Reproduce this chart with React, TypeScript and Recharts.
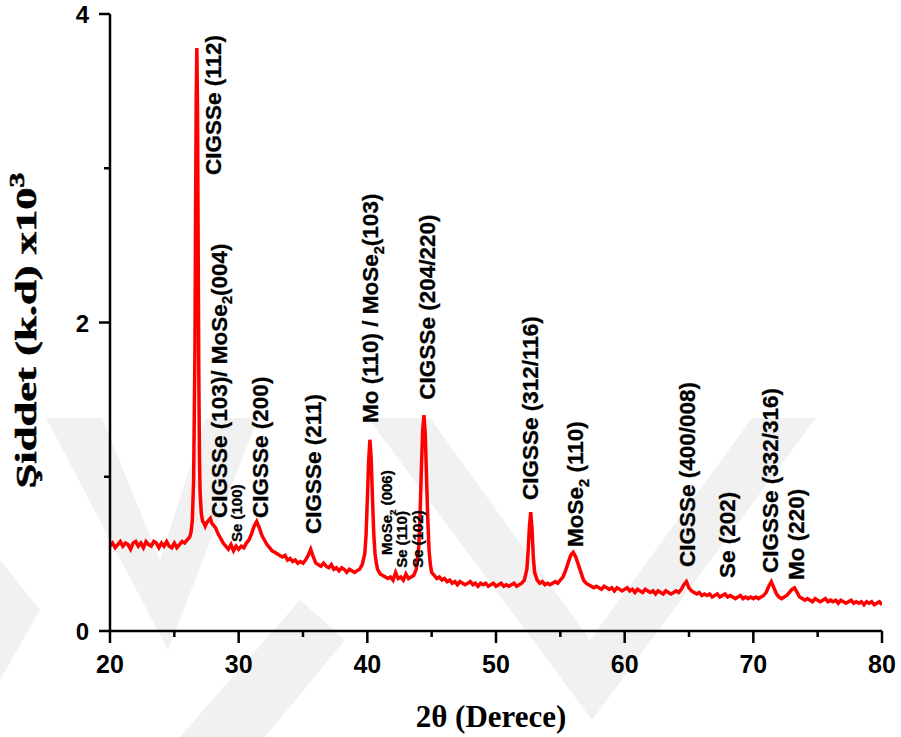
import React from "react";
import { ComposedChart, Line, Scatter, XAxis, YAxis, Label } from "recharts";

// 2θ (deg) / intensity (x10^3)
const scan: [number, number][] = [
  [20.0, 0.55], [20.2, 0.57], [20.4, 0.54], [20.6, 0.56], [20.8, 0.58], [21.0, 0.55], [21.2, 0.57], [21.4, 0.56],
  [21.6, 0.53], [21.8, 0.57], [22.0, 0.58], [22.2, 0.55], [22.4, 0.57], [22.6, 0.54], [22.8, 0.58], [23.0, 0.56],
  [23.2, 0.55], [23.4, 0.58], [23.6, 0.57], [23.8, 0.54], [24.0, 0.57], [24.2, 0.55], [24.4, 0.58], [24.6, 0.55],
  [24.8, 0.54], [25.0, 0.57], [25.2, 0.54], [25.4, 0.56], [25.6, 0.58], [25.8, 0.57], [26.0, 0.59], [26.2, 0.61],
  [26.3, 0.64], [26.4, 0.72], [26.5, 0.98], [26.6, 1.8], [26.65, 2.7], [26.7, 3.45], [26.75, 3.78], [26.8, 3.4],
  [26.85, 2.55], [26.9, 1.7], [26.95, 1.15], [27.0, 0.9], [27.1, 0.76], [27.2, 0.71], [27.3, 0.7], [27.4, 0.68],
  [27.5, 0.7], [27.6, 0.71], [27.7, 0.72], [27.8, 0.73], [27.9, 0.7], [28.0, 0.69], [28.2, 0.67], [28.4, 0.63],
  [28.6, 0.6], [28.8, 0.57], [29.0, 0.55], [29.2, 0.53], [29.4, 0.56], [29.6, 0.52], [29.8, 0.55], [30.0, 0.53],
  [30.2, 0.55], [30.4, 0.54], [30.6, 0.57], [30.8, 0.59], [31.0, 0.63], [31.2, 0.68], [31.4, 0.71], [31.6, 0.67],
  [31.8, 0.62], [32.0, 0.59], [32.2, 0.56], [32.4, 0.54], [32.6, 0.52], [32.8, 0.51], [33.0, 0.5], [33.2, 0.49],
  [33.4, 0.48], [33.6, 0.49], [33.8, 0.46], [34.0, 0.47], [34.2, 0.45], [34.4, 0.46], [34.6, 0.44], [34.8, 0.45],
  [35.0, 0.44], [35.2, 0.46], [35.4, 0.49], [35.6, 0.53], [35.8, 0.48], [36.0, 0.44], [36.2, 0.43], [36.4, 0.42],
  [36.6, 0.44], [36.8, 0.42], [37.0, 0.41], [37.2, 0.43], [37.4, 0.4], [37.6, 0.41], [37.8, 0.39], [38.0, 0.41],
  [38.2, 0.4], [38.4, 0.38], [38.6, 0.4], [38.8, 0.39], [39.0, 0.38], [39.2, 0.39], [39.4, 0.4], [39.6, 0.43],
  [39.8, 0.5], [39.9, 0.62], [40.0, 0.85], [40.1, 1.1], [40.2, 1.24], [40.3, 1.12], [40.4, 0.86], [40.5, 0.63],
  [40.6, 0.5], [40.7, 0.44], [40.8, 0.4], [41.0, 0.37], [41.2, 0.36], [41.4, 0.35], [41.6, 0.34], [41.8, 0.35],
  [42.0, 0.33], [42.2, 0.38], [42.4, 0.34], [42.6, 0.35], [42.8, 0.33], [43.0, 0.37], [43.2, 0.34], [43.4, 0.35],
  [43.6, 0.36], [43.8, 0.4], [44.0, 0.55], [44.1, 0.76], [44.2, 1.05], [44.3, 1.3], [44.4, 1.4], [44.5, 1.28],
  [44.6, 1.0], [44.7, 0.72], [44.8, 0.52], [44.9, 0.43], [45.0, 0.38], [45.2, 0.36], [45.4, 0.34], [45.6, 0.35],
  [45.8, 0.33], [46.0, 0.34], [46.2, 0.32], [46.4, 0.33], [46.6, 0.31], [46.8, 0.32], [47.0, 0.3], [47.2, 0.32],
  [47.4, 0.31], [47.6, 0.3], [47.8, 0.31], [48.0, 0.32], [48.2, 0.3], [48.4, 0.31], [48.6, 0.29], [48.8, 0.31],
  [49.0, 0.3], [49.2, 0.31], [49.4, 0.29], [49.6, 0.3], [49.8, 0.31], [50.0, 0.29], [50.2, 0.3], [50.4, 0.31],
  [50.6, 0.29], [50.8, 0.3], [51.0, 0.29], [51.2, 0.3], [51.4, 0.31], [51.6, 0.29], [51.8, 0.3], [52.0, 0.31],
  [52.2, 0.33], [52.4, 0.4], [52.5, 0.52], [52.6, 0.68], [52.7, 0.77], [52.8, 0.66], [52.9, 0.48], [53.0, 0.38],
  [53.2, 0.33], [53.4, 0.31], [53.6, 0.32], [53.8, 0.3], [54.0, 0.31], [54.2, 0.3], [54.4, 0.31], [54.6, 0.32],
  [54.8, 0.31], [55.0, 0.33], [55.2, 0.35], [55.4, 0.39], [55.6, 0.44], [55.8, 0.49], [56.0, 0.51], [56.2, 0.48],
  [56.4, 0.43], [56.6, 0.38], [56.8, 0.33], [57.0, 0.31], [57.2, 0.3], [57.4, 0.29], [57.6, 0.28], [57.8, 0.29],
  [58.0, 0.28], [58.2, 0.27], [58.4, 0.29], [58.6, 0.28], [58.8, 0.27], [59.0, 0.28], [59.2, 0.26], [59.4, 0.28],
  [59.6, 0.27], [59.8, 0.26], [60.0, 0.27], [60.2, 0.28], [60.4, 0.26], [60.6, 0.27], [60.8, 0.25], [61.0, 0.27],
  [61.2, 0.26], [61.4, 0.25], [61.6, 0.27], [61.8, 0.26], [62.0, 0.25], [62.2, 0.26], [62.4, 0.24], [62.6, 0.26],
  [62.8, 0.25], [63.0, 0.24], [63.2, 0.26], [63.4, 0.25], [63.6, 0.24], [63.8, 0.25], [64.0, 0.26], [64.2, 0.25],
  [64.4, 0.27], [64.6, 0.3], [64.8, 0.32], [65.0, 0.28], [65.2, 0.26], [65.4, 0.25], [65.6, 0.24], [65.8, 0.25],
  [66.0, 0.23], [66.2, 0.24], [66.4, 0.23], [66.6, 0.24], [66.8, 0.22], [67.0, 0.23], [67.2, 0.24], [67.4, 0.22],
  [67.6, 0.23], [67.8, 0.24], [68.0, 0.22], [68.2, 0.23], [68.4, 0.22], [68.6, 0.21], [68.8, 0.22], [69.0, 0.23],
  [69.2, 0.21], [69.4, 0.22], [69.6, 0.21], [69.8, 0.22], [70.0, 0.21], [70.2, 0.22], [70.4, 0.21], [70.6, 0.22],
  [70.8, 0.23], [71.0, 0.25], [71.2, 0.29], [71.4, 0.32], [71.6, 0.28], [71.8, 0.24], [72.0, 0.22], [72.2, 0.21],
  [72.4, 0.22], [72.6, 0.23], [72.8, 0.25], [73.0, 0.27], [73.2, 0.28], [73.4, 0.25], [73.6, 0.22], [73.8, 0.21],
  [74.0, 0.2], [74.2, 0.21], [74.4, 0.2], [74.6, 0.19], [74.8, 0.21], [75.0, 0.2], [75.2, 0.19], [75.4, 0.2],
  [75.6, 0.21], [75.8, 0.19], [76.0, 0.2], [76.2, 0.19], [76.4, 0.2], [76.6, 0.18], [76.8, 0.2], [77.0, 0.19],
  [77.2, 0.18], [77.4, 0.19], [77.6, 0.2], [77.8, 0.18], [78.0, 0.19], [78.2, 0.18], [78.4, 0.19], [78.6, 0.17],
  [78.8, 0.19], [79.0, 0.18], [79.2, 0.19], [79.4, 0.17], [79.6, 0.18], [79.8, 0.19], [80.0, 0.17],
];

// peak annotations: where the rotated text sits (angle, bottom of text in intensity units)
const labelAngle = [28.0, 28.43, 29.87, 31.66, 35.78, 40.21, 41.49, 42.69, 43.94, 44.64, 52.64, 56.14, 64.84, 67.95, 71.29, 73.31];
const labelBase = [2.956, 0.733, 0.577, 0.733, 0.629, 1.348, 0.493, 0.41, 0.41, 1.5, 0.849, 0.545, 0.415, 0.344, 0.376, 0.33];
const labelText = [
  "CIGSSe (112)",
  "CIGSSe (103)/ MoSe_2(004)",
  "Se (100)",
  "CIGSSe (200)",
  "CIGSSe (211)",
  "Mo (110) / MoSe_2(103)",
  "MoSe_2 (006)",
  "Se (110)",
  "Se (102)",
  "CIGSSe (204/220)",
  "CIGSSe (312/116)",
  "MoSe_2 (110)",
  "CIGSSe (400/008)",
  "Se (202)",
  "CIGSSe (332/316)",
  "Mo (220)",
];
const smallLabels = ["Se (100)", "MoSe_2 (006)", "Se (110)", "Se (102)"];

const xTicks = [20, 25, 30, 35, 40, 45, 50, 55, 60, 65, 70, 75, 80];
const yTicks = [0, 1, 2, 3, 4];

const scanRows = scan.map(([x, y]) => ({ x, y }));
const labelRows = labelAngle.map((x, i) => ({ x, y: labelBase[i], text: labelText[i], small: smallLabels.includes(labelText[i]) }));

const SANS = "'Liberation Sans', Arial, Helvetica, sans-serif";
const SERIF = "'Liberation Serif', 'Times New Roman', serif";

function withSub(text: string, fs: number) {
  const parts = text.split("_2");
  if (parts.length === 1) return text;
  return [
    <tspan key="a">{parts[0]}</tspan>,
    <tspan key="b" fontSize={fs * 0.65} dy={fs * 0.25}>2</tspan>,
    <tspan key="c" dy={-fs * 0.25}>{parts[1]}</tspan>,
  ];
}

const PeakLabel = (props: any) => {
  const { cx, cy, payload } = props;
  if (cx == null || cy == null) return null;
  const fs = payload.small ? 15 : 22.5;
  const bx = cx + fs * 0.36;
  return (
    <text transform={`translate(${bx},${cy}) rotate(-90)`} fontSize={fs} fontWeight="bold" fontFamily={SANS} fill="#000" stroke="#000" strokeWidth={0.3}>
      {withSub(payload.text, fs)}
    </text>
  );
};

const XTick = (props: any) => {
  const { x, y, payload } = props;
  const major = payload.value % 10 === 0;
  return (
    <g>
      <line x1={x} x2={x} y1={y} y2={y + (major ? 12 : 6)} stroke="#000" strokeWidth={2.5} />
      {major && (
        <text x={x} y={y + 42} textAnchor="middle" fontSize={25} fontWeight="bold" fontFamily={SANS} fill="#000">
          {payload.value}
        </text>
      )}
    </g>
  );
};

const YTick = (props: any) => {
  const { x, y, payload } = props;
  const major = payload.value % 2 === 0;
  return (
    <g>
      <line x1={x - (major ? 11 : 6)} x2={x} y1={y} y2={y} stroke="#000" strokeWidth={2.5} />
      {major && (
        <text x={x - 21} y={y + 9} textAnchor="end" fontSize={24} fontWeight="bold" fontFamily={SANS} fill="#000">
          {payload.value}
        </text>
      )}
    </g>
  );
};

// faint background watermark (two chevrons)
const Watermark = () => (
  <svg width={901} height={737} style={{ position: "absolute", left: 0, top: 0 }}>
    <g fill="#f1f1f1">
      <polygon points="46,418 102,418 160,560 206,418 258,418 168,650" />
      <polygon points="368,418 430,418 590,640 752,418 816,418 592,720" />
      <polygon points="0,560 40,610 0,680" />
      <polygon points="180,737 300,600 345,640 265,737" />
    </g>
  </svg>
);

export default function App() {
  return (
    <div style={{ position: "absolute", left: 0, top: 0, width: 901, height: 737, background: "#fff" }}>
      <Watermark />
      <div style={{ position: "absolute", left: 0, top: 0 }}>
        <ComposedChart width={901} height={737} margin={{ top: 14, right: 19, bottom: 0, left: 0 }}>
          <XAxis
            dataKey="x"
            type="number"
            domain={[20, 80]}
            ticks={xTicks}
            interval={0}
            allowDataOverflow
            height={106}
            tickSize={0}
            tickMargin={0}
            tickLine={false}
            tick={<XTick />}
            axisLine={{ stroke: "#000", strokeWidth: 2.5 }}
          >
            <Label
              content={({ viewBox }: any) => (
                <text
                  x={viewBox.x + viewBox.width / 2 - 5}
                  y={viewBox.y + 96}
                  textAnchor="middle"
                  fontSize={31}
                  fontWeight="bold"
                  fontFamily={SERIF}
                  fill="#000"
                >
                  2θ (Derece)
                </text>
              )}
            />
          </XAxis>
          <XAxis xAxisId="top" orientation="top" type="number" domain={[20, 80]} height={0} tick={false} tickLine={false} axisLine={{ stroke: "#000", strokeWidth: 2.5 }} />
          <YAxis
            type="number"
            domain={[0, 4]}
            ticks={yTicks}
            interval={0}
            allowDataOverflow
            width={110}
            tickSize={0}
            tickMargin={0}
            tickLine={false}
            tick={<YTick />}
            axisLine={{ stroke: "#000", strokeWidth: 2.5 }}
          >
            <Label
              content={({ viewBox }: any) => (
                <text
                  transform={`translate(${viewBox.x + 36},${viewBox.y + viewBox.height / 2 + 8}) rotate(-90)`}
                  textAnchor="middle"
                  fontSize={30}
                  fontWeight="bold"
                  fontFamily={SERIF}
                  fill="#000"
                  stroke="#000"
                  strokeWidth={0.6}
                  textLength={316}
                  lengthAdjust="spacingAndGlyphs"
                >
                  Şiddet (k.d) x10<tspan fontSize={20} dy={-12}>3</tspan>
                </text>
              )}
            />
          </YAxis>
          <YAxis yAxisId="right" orientation="right" type="number" domain={[0, 4]} width={0} tick={false} tickLine={false} axisLine={{ stroke: "#000", strokeWidth: 2.5 }} />
          <Line data={scanRows} dataKey="y" type="linear" stroke="#ff0000" strokeWidth={3.5} strokeLinejoin="miter" dot={false} isAnimationActive={false} />
          <Scatter data={labelRows} dataKey="y" shape={PeakLabel} isAnimationActive={false} />
        </ComposedChart>
      </div>
    </div>
  );
}
